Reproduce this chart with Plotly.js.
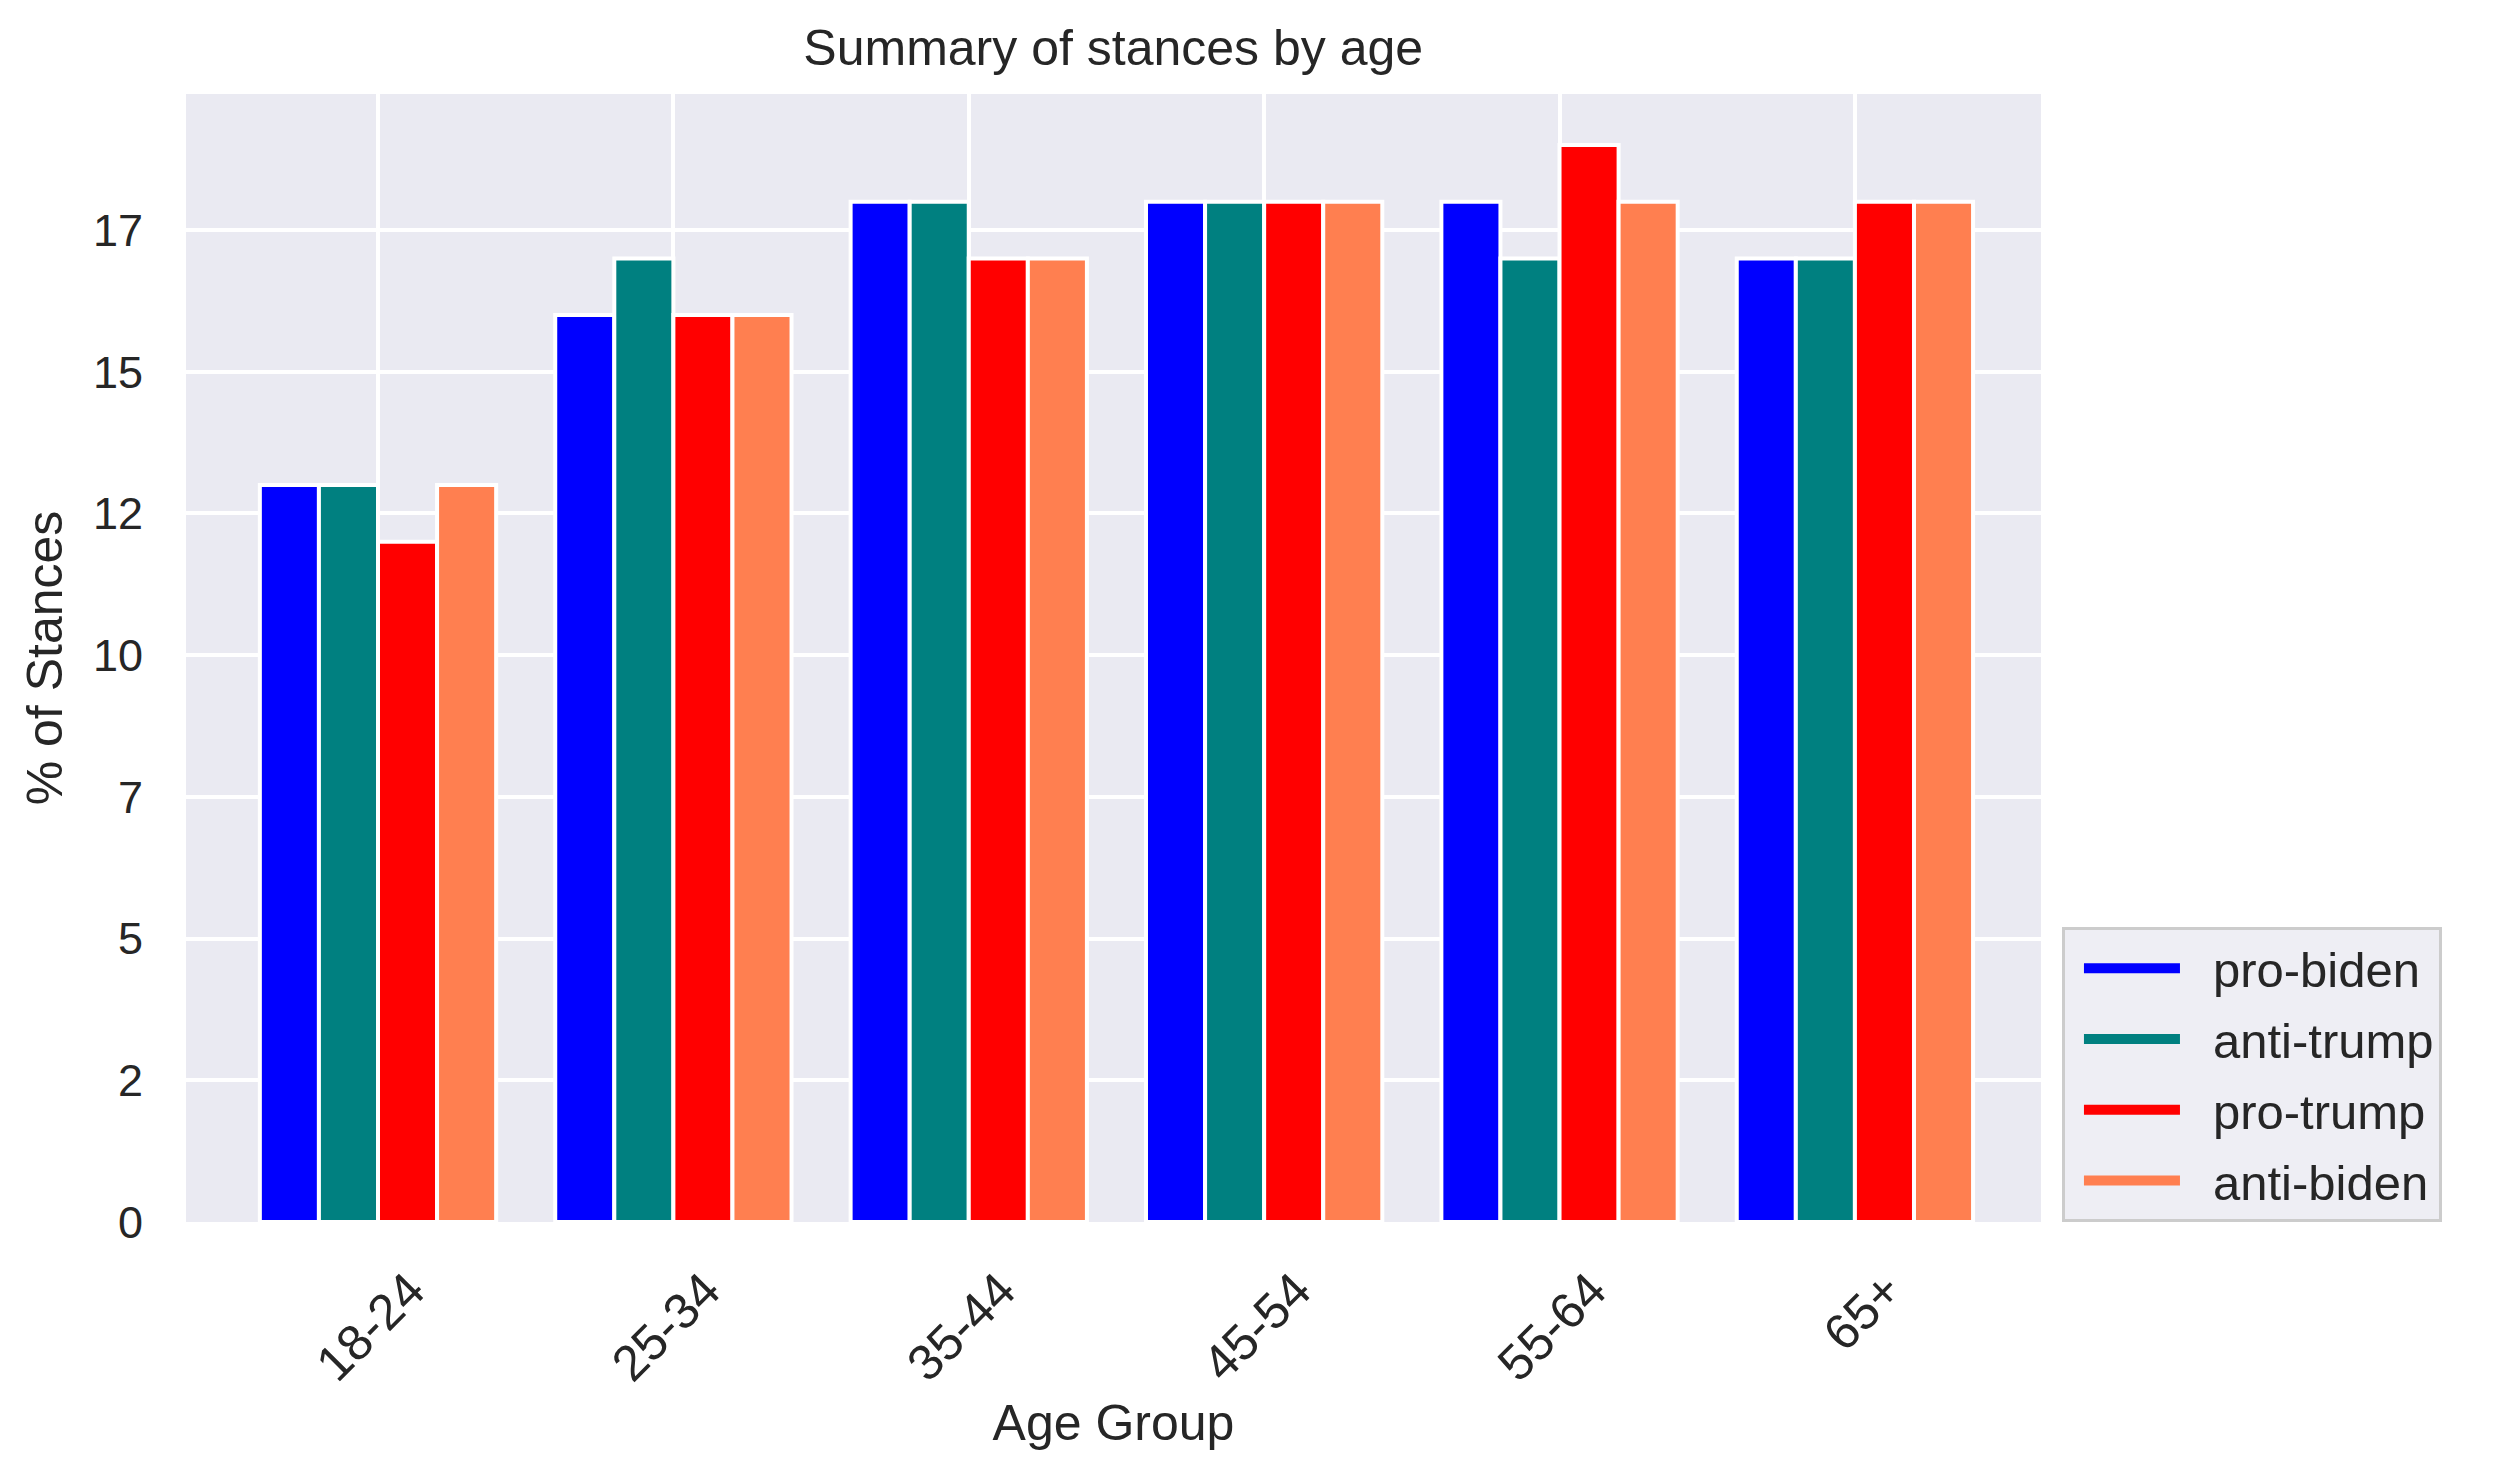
<!DOCTYPE html>
<html>
<head>
<meta charset="utf-8">
<script src="https://cdn.plot.ly/plotly-3.0.1.min.js"></script>
<style>
  html, body { margin: 0; padding: 0; background: #ffffff; }
  #chart { width: 2496px; height: 1480px; }
</style>
</head>
<body>
<div id="chart"></div>
<script>
// -----------------------
// Data
// -----------------------
const AGE_GROUPS = ["18-24", "25-34", "35-44", "45-54", "55-64", "65+"];
const PRO_BIDEN  = [13, 16, 18, 18, 18, 17];
const ANTI_TRUMP = [13, 17, 18, 18, 17, 17];
const PRO_TRUMP  = [12, 16, 17, 18, 19, 18];
const ANTI_BIDEN = [13, 16, 17, 18, 18, 18];

const Y_TICKS  = [0, 2.5, 5, 7.5, 10, 12.5, 15, 17.5];
const Y_LABELS = ["0", "2", "5", "7", "10", "12", "15", "17"];

const SERIES = [
  { name: "pro-biden",  y: PRO_BIDEN,  color: "#0000ff" },
  { name: "anti-trump", y: ANTI_TRUMP, color: "#008080" },
  { name: "pro-trump",  y: PRO_TRUMP,  color: "#ff0000" },
  { name: "anti-biden", y: ANTI_BIDEN, color: "#ff7f50" }
];

const FONT = "Liberation Sans, Arial, sans-serif";
const TXT = "#262626";

// -----------------------
// Traces
// -----------------------
const bars = SERIES.map(s => ({
  type: "bar",
  name: s.name,
  x: AGE_GROUPS,
  y: s.y,
  showlegend: false,
  marker: { color: s.color, line: { color: "#ffffff", width: 4 } },
  hoverinfo: "x+y+name"
}));

// legend-only entries: a thick dashed line draws a patch with a gap before the text
const legendItems = SERIES.map(s => ({
  type: "scatter",
  mode: "lines",
  name: s.name,
  legendgroup: s.name,
  x: [null],
  y: [null],
  line: { color: s.color, width: 30, dash: "0px,14px,96px,400px" },
  hoverinfo: "skip"
}));

const layout = {
  width: 2496,
  height: 1480,
  margin: { l: 186, r: 455, t: 94, b: 258 },
  paper_bgcolor: "#ffffff",
  plot_bgcolor: "#eaeaf2",
  font: { family: FONT, color: TXT, size: 45 },
  barmode: "group",
  bargap: 0.2,
  bargroupgap: 0,
  title: {
    text: "Summary of stances by age",
    font: { family: FONT, size: 50, color: TXT },
    x: 0.446, xanchor: "center",
    y: 0.968, yanchor: "middle", yref: "container"
  },
  xaxis: {
    type: "category",
    range: [-0.65, 5.63],
    showgrid: true,
    gridcolor: "#ffffff",
    gridwidth: 4,
    zeroline: false,
    showline: false,
    ticks: "",
    tickangle: -45,
    ticklabelshift: 32,
    ticklabelstandoff: 28,
    tickfont: { family: FONT, size: 50, color: TXT },
    title: { text: "Age Group", font: { family: FONT, size: 50, color: TXT }, standoff: 14 }
  },
  yaxis: {
    range: [0, 19.9],
    tickvals: Y_TICKS,
    ticktext: Y_LABELS,
    showgrid: true,
    gridcolor: "#ffffff",
    gridwidth: 4,
    zeroline: false,
    showline: false,
    ticks: "",
    ticklabelstandoff: 42,
    tickfont: { family: FONT, size: 45, color: TXT },
    title: { text: "% of Stances", font: { family: FONT, size: 50, color: TXT }, standoff: 14 }
  },
  legend: {
    x: 1.0113, xanchor: "left",
    y: 0, yanchor: "bottom",
    bgcolor: "#eeeef4",
    bordercolor: "#cccccc",
    borderwidth: 3,
    itemwidth: 138,
    tracegroupgap: 4,
    font: { family: FONT, size: 49, color: TXT }
  },
  showlegend: true
};

Plotly.newPlot("chart", bars.concat(legendItems), layout, { displayModeBar: false, staticPlot: true });
</script>
</body>
</html>
